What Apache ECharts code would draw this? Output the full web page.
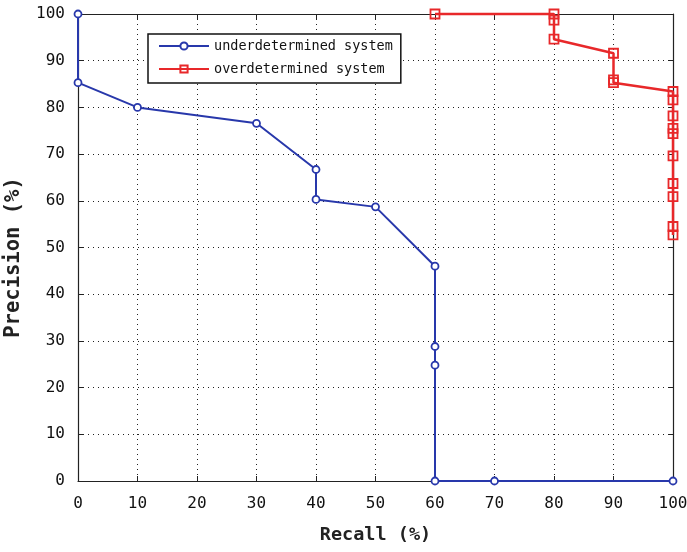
<!DOCTYPE html>
<html>
<head>
<meta charset="utf-8">
<script src="https://cdn.jsdelivr.net/npm/echarts@6/dist/echarts.min.js"></script>
<style>
  html, body { margin: 0; padding: 0; background: #fff; }
  #chart { width: 687px; height: 552px; }
</style>
</head>
<body>
<div id="chart"></div>
<script>
// Precision / recall curves for the two system types
const underRecall    = [0, 0, 10, 30, 40, 40, 50, 60, 60, 60, 60, 70, 100];
const underPrecision = [100, 85.3, 80, 76.6, 66.7, 60.3, 58.7, 46, 28.8, 24.8, 0, 0, 0];

const overRecall    = [60, 80, 80, 80, 90, 90, 90, 100, 100, 100, 100, 100, 100, 100, 100, 100, 100];
const overPrecision = [100, 100, 98.7, 94.6, 91.6, 85.9, 85.3, 83.4, 81.6, 78.2, 75.5, 74.4, 69.6, 63.7, 60.9, 54.5, 52.7];

const xTicks = [0, 10, 20, 30, 40, 50, 60, 70, 80, 90, 100];
const yTicks = [0, 10, 20, 30, 40, 50, 60, 70, 80, 90, 100];

const seriesNames = ['underdetermined system', 'overdetermined system'];

const FONT = 'DejaVu Sans Mono';
const BLUE = '#2838ab';
const RED = '#e8282a';

function pairs(xs, ys) { return xs.map((x, i) => [x, ys[i]]); }

const chart = echarts.init(document.getElementById('chart'), null, { renderer: 'canvas' });

const gridLine = { show: true, lineStyle: { color: '#222', type: [1, 4], width: 1 } };
const frameLine = { show: true, onZero: false, lineStyle: { color: '#222', width: 1.2 } };
const tickInside = { show: true, inside: true, length: 5, lineStyle: { color: '#222', width: 1 } };

chart.setOption({
  backgroundColor: '#fff',
  animation: false,
  grid: {
    left: 78, right: 14, top: 14, bottom: 71,
    containLabel: false,
    outerBoundsMode: 'none'
  },
  legend: {
    orient: 'vertical',
    left: 148,
    top: 34,
    zlevel: 1,
    z: 20,
    data: seriesNames,
    itemWidth: 50,
    itemHeight: 9,
    itemGap: 9,
    padding: [5, 8, 7, 10],
    borderColor: '#111',
    borderWidth: 1.5,
    backgroundColor: '#fff',
    textStyle: { fontFamily: FONT, fontSize: 13.5, color: '#111', lineHeight: 14 }
  },
  xAxis: [
    {
      type: 'value', min: 0, max: 100, interval: 10, position: 'bottom',
      axisLine: frameLine, axisTick: tickInside, splitLine: gridLine,
      axisLabel: {
        fontFamily: FONT, fontSize: 16, color: '#111', margin: 15,
        formatter: v => (xTicks.includes(v) ? String(v) : '')
      },
      name: 'Recall (%)', nameLocation: 'middle', nameGap: 45,
      nameTextStyle: { fontFamily: FONT, fontSize: 18.5, fontWeight: 'bold', color: '#222' }
    },
    {
      type: 'value', min: 0, max: 100, interval: 10, position: 'top',
      axisLine: frameLine, axisTick: tickInside, splitLine: { show: false },
      axisLabel: { show: false }
    }
  ],
  yAxis: [
    {
      type: 'value', min: 0, max: 100, interval: 10, position: 'left',
      axisLine: frameLine, axisTick: tickInside, splitLine: gridLine,
      axisLabel: {
        fontFamily: FONT, fontSize: 16, color: '#111', margin: 13,
        formatter: v => (yTicks.includes(v) ? String(v) : '')
      },
      name: 'Precision (%)', nameLocation: 'middle', nameGap: 54,
      nameTextStyle: {
        fontFamily: FONT, fontSize: 20.5, fontWeight: 'bold', color: '#222',
        padding: [0, 20, 0, 0]
      }
    },
    {
      type: 'value', min: 0, max: 100, interval: 10, position: 'right',
      axisLine: frameLine, axisTick: tickInside, splitLine: { show: false },
      axisLabel: { show: false }
    }
  ],
  series: [
    {
      name: seriesNames[0],
      type: 'line',
      data: pairs(underRecall, underPrecision),
      color: BLUE,
      symbol: 'circle',
      symbolSize: 7,
      showAllSymbol: true,
      clip: false,
      zlevel: 1,
      lineStyle: { width: 2, color: BLUE },
      itemStyle: { color: '#fff', borderColor: BLUE, borderWidth: 1.8 },
      z: 10
    },
    {
      name: seriesNames[1],
      type: 'line',
      data: pairs(overRecall, overPrecision),
      color: RED,
      symbol: 'rect',
      symbolSize: 9,
      showAllSymbol: true,
      clip: false,
      zlevel: 1,
      lineStyle: { width: 2.5, color: RED },
      itemStyle: { color: 'rgba(255,255,255,0)', borderColor: RED, borderWidth: 1.8 },
      z: 10
    }
  ]
});
</script>
</body>
</html>
